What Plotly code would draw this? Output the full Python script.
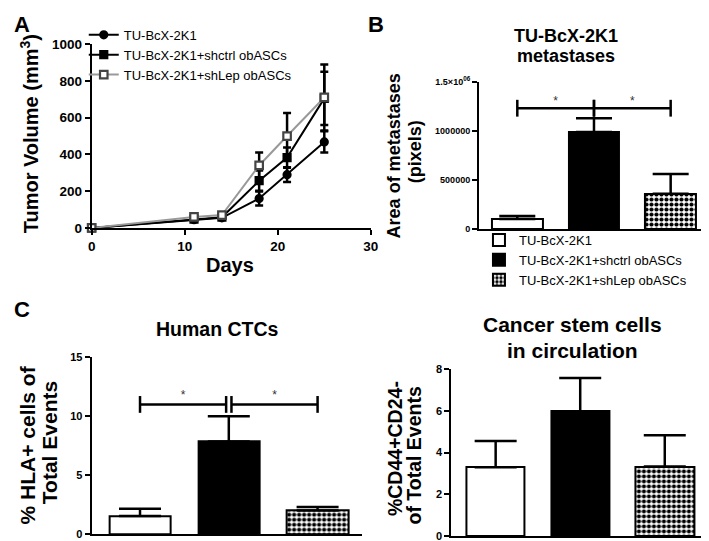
import plotly.graph_objects as go

W, H = 709, 541

# ---------------- Data ----------------
days = [0, 11, 14, 18, 21, 25]
vol_ctrl = [0, 45, 55, 160, 290, 468]
vol_ctrl_err = [0, 8, 8, 38, 40, 58]
vol_shctrl = [0, 48, 58, 257, 383, 705]
vol_shctrl_err = [0, 8, 8, 55, 55, 145]
vol_shlep = [0, 60, 70, 340, 500, 710]
vol_shlep_err = [0, 8, 8, 70, 125, 180]

groups = ["TU-BcX-2K1", "TU-BcX-2K1+shctrl obASCs", "TU-BcX-2K1+shLep obASCs"]

met_area = [100000, 990000, 360000]
met_err = [33000, 140000, 200000]
met_ticks = [0, 500000, 1000000, 1500000]
met_ticktext = ["0", "500000", "1000000", "1.5×10<sup>06</sup>"]
met_bracket = 1233000
met_star = 1300000

ctc = [1.55, 7.85, 2.0]
ctc_err = [0.6, 2.15, 0.3]
ctc_ticks = [0, 5, 10, 15]
ctc_bracket = 11.0
ctc_star = 11.7

csc = [3.3, 5.98, 3.33]
csc_err = [1.25, 1.58, 1.5]
csc_ticks = [0, 2, 4, 6, 8]

FONT = "Liberation Sans"

def px(x):
    return x / W

def py(y):
    return 1 - y / H

fig = go.Figure()

# ---------------- Panel A ----------------
line_specs = [
    (vol_ctrl, vol_ctrl_err, groups[0], "circle", "black", "black", "black", 7),
    (vol_shctrl, vol_shctrl_err, groups[1], "square", "black", "black", "black", 7),
    (vol_shlep, vol_shlep_err, groups[2], "square", "white", "#444444", "#999999", 7.5),
]
for vals, errs, name, sym, fill, mline, lcol, size in line_specs:
    fig.add_trace(go.Scatter(
        x=days, y=vals, name=name, mode="lines+markers",
        line=dict(color=lcol, width=2),
        marker=dict(symbol=sym, color=fill, size=size, line=dict(color=mline, width=2.2)),
        error_y=dict(type="data", array=errs, color="black", thickness=2.5, width=4),
        xaxis="x", yaxis="y", legend="legend", cliponaxis=False,
    ))

# ---------------- Bars helper ----------------
fills = [
    dict(color="white", pattern=None),
    dict(color="black", pattern=None),
    dict(color="white", pattern=dict(shape=".", size=5, solidity=0.55, fgcolor="black",
                                     bgcolor="white", fillmode="replace")),
]

def add_bars(vals, errs, xa, ya, width, capw, legend=False):
    for i, (v, e) in enumerate(zip(vals, errs)):
        m = dict(color=fills[i]["color"], line=dict(color="black", width=2))
        if fills[i]["pattern"]:
            m["pattern"] = fills[i]["pattern"]
        fig.add_trace(go.Bar(
            x=[i], y=[v], width=width, name=groups[i], marker=m,
            error_y=dict(type="data", symmetric=False, array=[e], arrayminus=[0],
                         color="black", thickness=2.5, width=capw),
            xaxis=xa, yaxis=ya, showlegend=legend, legend="legend2",
        ))

def add_bracket(xa, ya, h, star, split_gap=0.0, tick=None):
    segs = [(0, 1 - split_gap), (1 + split_gap, 2)]
    for a, b in segs:
        fig.add_trace(go.Scatter(
            x=[a, b], y=[h, h], mode="lines+markers",
            line=dict(color="black", width=2.5),
            marker=dict(symbol="line-ns", size=tick, line=dict(color="black", width=2.5)),
            xaxis=xa, yaxis=ya, showlegend=False, hoverinfo="skip", cliponaxis=False,
        ))
        fig.add_trace(go.Scatter(
            x=[(a + b) / 2], y=[star], mode="text", text=["*"],
            textfont=dict(size=12, color="#333", family=FONT),
            xaxis=xa, yaxis=ya, showlegend=False, hoverinfo="skip", cliponaxis=False,
        ))

# Panel B
add_bars(met_area, met_err, "x2", "y2", 0.66, 18, legend=True)
add_bracket("x2", "y2", met_bracket, met_star, 0.0, 12)
# Panel C
add_bars(ctc, ctc_err, "x3", "y3", 0.69, 21)
add_bracket("x3", "y3", ctc_bracket, ctc_star, 0.03, 12)
# Panel D
add_bars(csc, csc_err, "x4", "y4", 0.69, 21)

# ---------------- Axes ----------------
axcommon = dict(showline=True, linecolor="black", linewidth=2, showgrid=False, zeroline=False,
                ticks="outside", ticklen=5, tickwidth=2, tickcolor="black",
                tickfont=dict(family=FONT, size=13.5, color="black", weight="bold"))

fig.update_layout(
    width=W, height=H, margin=dict(l=0, r=0, t=0, b=0),
    paper_bgcolor="white", plot_bgcolor="white",
    barmode="overlay", bargap=0,
    font=dict(family=FONT, color="black"),
    xaxis=dict(axcommon, domain=[px(81), px(365)], range=[0, 30], tickvals=[0, 10, 20, 30],
               anchor="y"),
    yaxis=dict(axcommon, domain=[py(219), py(30)], range=[0, 1000],
               tickvals=[0, 200, 400, 600, 800, 1000], anchor="x"),
    xaxis2=dict(axcommon, domain=[px(475), px(709)], range=[-0.5, 2.5], ticks="",
                showticklabels=False, anchor="y2"),
    yaxis2=dict(axcommon, domain=[py(220), py(69)], range=[0, 1500000], tickvals=met_ticks,
                ticktext=met_ticktext, anchor="x2",
                tickfont=dict(family=FONT, size=9, color="black", weight="bold")),
    xaxis3=dict(axcommon, domain=[px(81), px(356)], range=[-0.545, 2.5], ticks="",
                showticklabels=False, anchor="y3"),
    yaxis3=dict(axcommon, domain=[py(534), py(352)], range=[0, 15], tickvals=ctc_ticks,
                anchor="x3", tickfont=dict(family=FONT, size=11, color="black", weight="bold")),
    xaxis4=dict(axcommon, domain=[px(447), px(709)], range=[-0.523, 2.523], ticks="",
                showticklabels=False, anchor="y4"),
    yaxis4=dict(axcommon, domain=[py(536), py(364)], range=[0, 8], tickvals=csc_ticks,
                anchor="x4", tickfont=dict(family=FONT, size=11, color="black", weight="bold")),
    legend=dict(x=px(73), y=py(5), xanchor="left", yanchor="top", bgcolor="rgba(0,0,0,0)",
                font=dict(family=FONT, size=13, color="black"), itemwidth=30, tracegroupgap=0),
    legend2=dict(x=px(475), y=py(216), xanchor="left", yanchor="top", bgcolor="rgba(0,0,0,0)",
                 font=dict(family=FONT, size=13, color="black"), itemwidth=30, tracegroupgap=0),
)

def ann(text, x, y, size, angle=0, bold=True, xanchor="center", yanchor="middle"):
    fig.add_annotation(text=text, x=px(x), y=py(y), xref="paper", yref="paper",
                       showarrow=False, textangle=angle, xanchor=xanchor, yanchor=yanchor,
                       font=dict(family=FONT, size=size, color="black",
                                 weight="bold" if bold else "normal"))

# Panel letters
ann("A", 0, 10, 22, xanchor="left")
ann("B", 360, 10, 22, xanchor="left")
ann("C", 0, 303, 22, xanchor="left")
# Titles
ann("TU-BcX-2K1", 564, 22, 18)
ann("metastases", 564, 42, 18)
ann("Human CTCs", 209, 323, 19.5)
ann("Cancer stem cells", 570, 318, 21)
ann("in circulation", 570, 345, 21)
ann("Days", 222, 257, 20)
# Y titles
ann("Tumor Volume (mm<sup>3</sup>)", 18, 122, 20, angle=-90)
ann("Area of metastases", 389, 145, 18, angle=-90)
ann("(pixels)", 410, 141, 18, angle=-90)
ann("% HLA+ cells of", 16, 442, 21, angle=-90)
ann("Total Events", 38, 440, 21, angle=-90)
ann("%CD44+CD24-", 389, 446, 19.5, angle=-90)
ann("of Total Events", 409, 453, 19.5, angle=-90)

fig.write_html("out.html")
